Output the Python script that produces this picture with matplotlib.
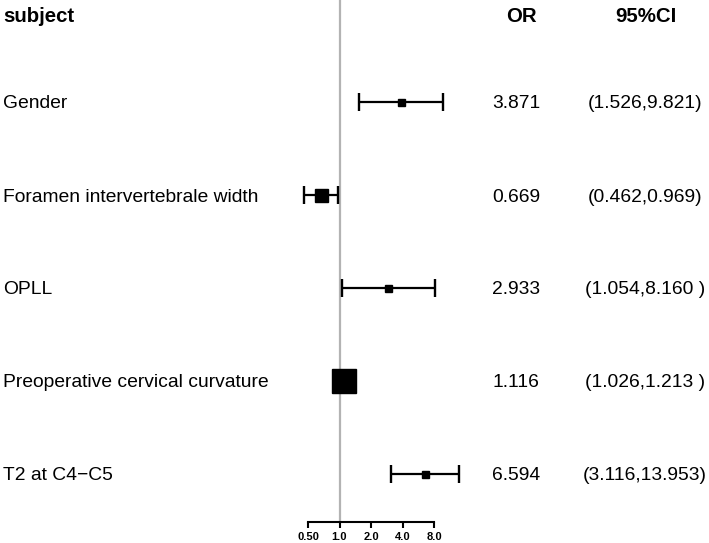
import numpy as np
import matplotlib
matplotlib.use("Agg")
from matplotlib import pyplot as plt
from matplotlib.ticker import FixedLocator, FixedFormatter
import matplotlib.transforms as mtransforms

plt.rcParams['font.family'] = ['Liberation Sans', 'DejaVu Sans']

# data
subjects = ["Gender", "Foramen intervertebrale width", "OPLL",
            "Preoperative cervical curvature", "T2 at C4\u2212C5"]
odds = [3.871, 0.669, 2.933, 1.116, 6.594]
lower = [1.526, 0.462, 1.054, 1.026, 3.116]
upper = [9.821, 0.969, 8.160, 1.213, 13.953]
ci_text = ["(1.526,9.821)", "(0.462,0.969)", "(1.054,8.160 )",
           "(1.026,1.213 )", "(3.116,13.953)"]
box_px = [7, 13, 7, 24, 7]  # marker widths in pixels
ticks = [0.5, 1.0, 2.0, 4.0, 8.0]
tick_labels = ["0.50", "1.0", "2.0", "4.0", "8.0"]

W, H, DPI = 709, 543, 100
fig = plt.figure(figsize=(W / DPI, H / DPI), dpi=DPI)

# axes: x 0.5 -> 8 spans px 308..434, y from top px 0 to axis line px 522
x0, x1 = 308, 434
ax = fig.add_axes([x0 / W, (H - 522) / H, (x1 - x0) / W, 522 / H])
ax.set_xscale("log", base=2)
ax.set_xlim(0.5, 8)
row_top, row_gap = 102, 93
ax.set_ylim((522 - row_top) / row_gap, -row_top / row_gap)

ypos = np.arange(len(subjects))

ax.axvline(1.0, color="#b3b3b3", lw=1.6, zorder=1, clip_on=False)

for i in range(len(subjects)):
    ax.errorbar(odds[i], ypos[i],
                xerr=[[odds[i] - lower[i]], [upper[i] - odds[i]]],
                fmt="none", ecolor="black", elinewidth=1.6,
                capsize=6.8, capthick=1.7, clip_on=False, zorder=2)
    ax.plot(odds[i], ypos[i], marker="s", color="black",
            markersize=box_px[i] * 72 / DPI, clip_on=False, zorder=3)

for s in ["top", "left", "right"]:
    ax.spines[s].set_visible(False)
ax.spines["bottom"].set_linewidth(1.5)
ax.spines["bottom"].set_bounds(0.5, 8)
ax.set_yticks([])
ax.xaxis.set_major_locator(FixedLocator(ticks))
ax.xaxis.set_major_formatter(FixedFormatter(tick_labels))
ax.xaxis.set_minor_locator(FixedLocator([]))
ax.tick_params(axis="x", length=4, width=1.5, pad=3, labelsize=8)
for lab in ax.get_xticklabels():
    lab.set_fontweight("bold")

# text columns: x in figure fraction, y in data rows
tr = mtransforms.blended_transform_factory(fig.transFigure, ax.transData)
head_y = (14 - row_top) / row_gap
ax.text(3 / W, head_y, "subject", transform=tr, fontsize=14.7,
        fontweight="bold", ha="left", va="center_baseline")
ax.text(521 / W, head_y, "OR", transform=tr, fontsize=14.7,
        fontweight="bold", ha="center", va="center_baseline")
ax.text(646 / W, head_y, "95%CI", transform=tr, fontsize=14.7,
        fontweight="bold", ha="center", va="center_baseline")
for i in range(len(subjects)):
    ax.text(3 / W, ypos[i], subjects[i], transform=tr, fontsize=13.85,
            ha="left", va="center_baseline")
    ax.text(516 / W, ypos[i], "%.3f" % odds[i], transform=tr, fontsize=13.85,
            ha="center", va="center_baseline")
    ax.text(645 / W, ypos[i], ci_text[i], transform=tr, fontsize=13.85,
            ha="center", va="center_baseline")

fig.savefig("out.png", dpi=DPI)
